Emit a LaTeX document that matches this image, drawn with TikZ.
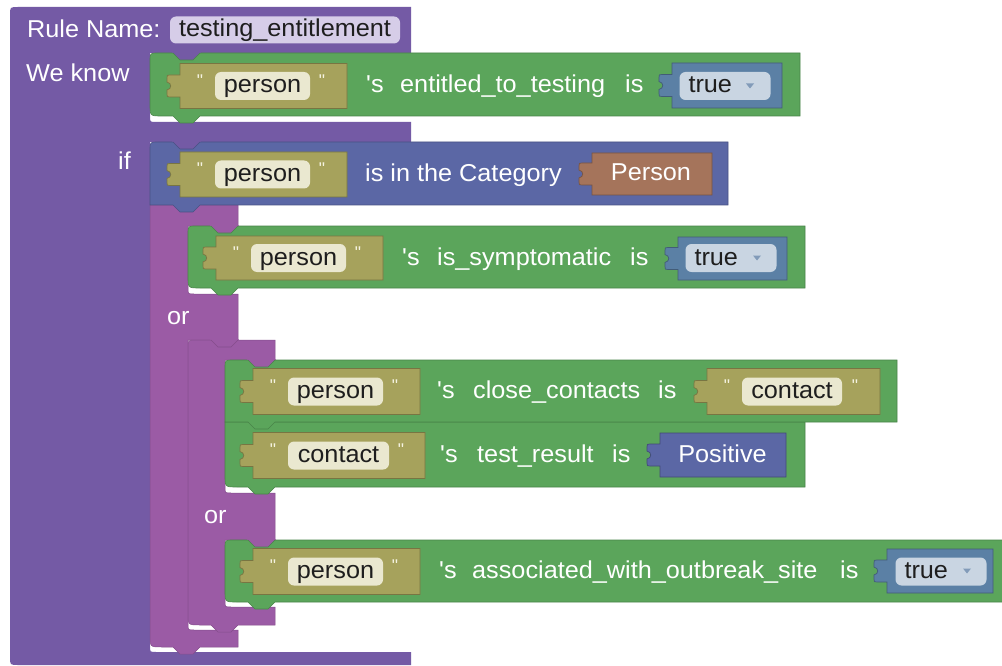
\documentclass[tikz,border=0pt]{standalone}
\usepackage{fontspec}
\setmainfont{Liberation Sans}[Ligatures=TeXOff,FakeStretch=1.035]
\definecolor{rulep}{RGB}{116,90,165}
\definecolor{orm}{RGB}{155,91,165}
\definecolor{grn}{RGB}{91,165,91}
\definecolor{oliv}{RGB}{166,162,92}
\definecolor{fieldc}{RGB}{234,232,208}
\definecolor{tblue}{RGB}{91,128,165}
\definecolor{tfieldc}{RGB}{201,213,226}
\definecolor{indigo}{RGB}{91,103,165}
\definecolor{brownb}{RGB}{165,116,91}
\definecolor{rfield}{RGB}{214,205,232}
\definecolor{fieldtxt}{RGB}{30,30,30}
\definecolor{qcol}{RGB}{245,243,225}
\definecolor{dropc}{RGB}{130,155,185}
% statement block: color, x1, y1, x2, y2, top-left radius, bottom-left radius
\newcommand\stmtblock[7]{%
  \fill[#1, draw=#1!80!black, line width=0.6pt] (#2,{#3+#6}) .. controls (#2,#3) .. ({#2+#6},#3) -- (#4,#3) -- (#4,#5) -- ({#2+50},#5) -- ({#2+43},{#5+7}) -- ({#2+30},{#5+7}) -- ({#2+23},#5) -- ({#2+#7},#5) .. controls (#2,#5) .. (#2,{#5-#7}) -- cycle;}
% parent's tab sitting in a child's top notch: parent color, child border, x, y
\newcommand\notchtab[4]{%
  \fill[#1] ({#3+22},{#4-0.8}) -- ({#3+30},{#4+7}) -- ({#3+43},{#4+7}) -- ({#3+51},{#4-0.8}) -- cycle;
  \draw[#2, line width=0.6pt] ({#3+23},#4) -- ({#3+30},{#4+7}) -- ({#3+43},{#4+7}) -- ({#3+50},#4);}
% value block with puzzle tab: color, x1, x2, centre y, height
\newcommand\valblock[5]{%
  \fill[#1, draw=#1!72!black, line width=0.7pt] (#2,{#4-#5/2}) -- (#3,{#4-#5/2}) -- (#3,{#4+#5/2}) -- (#2,{#4+#5/2}) -- (#2,{#4+11}) -- ({#2-10},{#4+11}) .. controls ({#2-13},{#4+11}) .. ({#2-13},{#4+8}) -- ({#2-13},{#4+4}) .. controls ({#2-8},{#4+3}) and ({#2-8},{#4-3}) .. ({#2-13},{#4-4}) -- ({#2-13},{#4-8}) .. controls ({#2-13},{#4-11}) .. ({#2-10},{#4-11}) -- (#2,{#4-11}) -- cycle;}
\newcommand\dropmark[2]{%
  \fill[dropc] ({#1-4},{#2-2.5}) -- ({#1+4},{#2-2.5}) -- (#1,{#2+2.5}) -- cycle;}
\tikzset{
  bfont/.style={font=\fontsize{24.4}{29}\selectfont},
  lbl/.style={bfont, text=white, anchor=base west, inner sep=0pt},
  vlbl/.style={bfont, text=white, inner sep=0pt, text height=17pt, text depth=3pt},
  pfield/.style={bfont, fill=fieldc, rounded corners=6pt, minimum height=28pt, inner sep=0pt, text height=17pt, text depth=3pt, text=fieldtxt},
  tfield/.style={bfont, fill=tfieldc, rounded corners=6pt, text width=73pt, align=left, inner xsep=9pt, inner ysep=4pt, text height=17pt, text depth=3pt, text=fieldtxt},
  qt/.style={text=qcol, inner sep=0pt, font=\fontsize{17}{20}\selectfont},
}
\begin{document}
\begin{tikzpicture}[x=1pt,y=-1pt]
\useasboundingbox (0,0) rectangle (1002,666);
\clip (0,0) rectangle (1002,666);
\fill[white] (0,0) rectangle (1002,666);

% main rule block
\fill[rulep] (10,15) .. controls (10,7) .. (18,7) -- (411,7) -- (411,53) -- (150,53) -- (150,116) .. controls (150,122) .. (156,122) -- (411,122) -- (411,142) -- (150,142) -- (150,646) .. controls (150,652) .. (156,652) -- (411,652) -- (411,665) -- (18,665) .. controls (10,665) .. (10,657) -- cycle;

% We know: green statement
\stmtblock{grn}{150}{53}{800}{116}{8}{12}
\notchtab{rulep}{grn!80!black}{150}{53}

% outer "or" block
\fill[orm, draw=orm!85!black, line width=0.5pt] (150,205) -- (238,205) -- (238,226) -- (188,226) -- (188,288) .. controls (188,294) .. (194,294) -- (238,294) -- (238,340) -- (188,340) -- (188,624) .. controls (188,630) .. (194,630) -- (238,630) -- (238,647) -- (200,647) -- (193,654) -- (180,654) -- (173,647) -- (162,647) .. controls (150,647) .. (150,635) -- cycle;

% category block
\stmtblock{indigo}{150}{142}{728}{205}{8}{0}
\notchtab{rulep}{indigo!80!black}{150}{142}

% is_symptomatic
\stmtblock{grn}{188}{226}{805}{288}{8}{12}
\notchtab{orm}{grn!80!black}{188}{226}

% nested "or" block
\fill[orm, draw=orm!85!black, line width=0.5pt] (188,348) .. controls (188,340) .. (196,340) -- (275,340) -- (275,360) -- (225,360) -- (225,487) .. controls (225,493) .. (231,493) -- (275,493) -- (275,540) -- (225,540) -- (225,601) .. controls (225,607) .. (231,607) -- (275,607) -- (275,625) -- (238,625) -- (231,632) -- (218,632) -- (211,625) -- (200,625) .. controls (188,625) .. (188,613) -- cycle;
\notchtab{orm}{orm!85!black}{188}{340}

% close_contacts / test_result / outbreak site
\stmtblock{grn}{225}{422}{805}{487}{0}{12}
\stmtblock{grn}{225}{360}{897}{422}{8}{0}
\notchtab{orm}{grn!80!black}{225}{360}
\stmtblock{grn}{225}{540}{1010}{602}{8}{12}
\notchtab{orm}{grn!80!black}{225}{540}

% header texts
\node[lbl] (rn) at (27,37.5) {Rule Name:};
\node[pfield, fill=rfield, minimum width=230pt, minimum height=27pt] (rnf) at (285,30) {testing\_entitlement};
\node[lbl] (wk) at (26,82) {We know};
\node[lbl] (ifl) at (118,170) {if};
\node[lbl] (or1) at (167,324) {or};
\node[lbl] (or2) at (204,523.5) {or};

% row 1
\valblock{oliv}{180}{347}{86}{45}
\node[qt] (q1a) at (200,80.5) {"};
\node[qt] (q1b) at (322,80.5) {"};
\node[pfield, minimum width=95pt] (f1) at (262.5,86) {person};
\node[lbl] (s1) at (366,93) {'s};
\node[lbl] (a1) at (400,93) {entitled\_to\_testing};
\node[lbl] (i1) at (625,93) {is};
\valblock{tblue}{672}{782}{85.5}{45}
\node[tfield] (t1) at (725,86) {true};
\dropmark{750}{86}

% row 2
\valblock{oliv}{180}{347}{174.5}{45}
\node[qt] (q2a) at (200,169) {"};
\node[qt] (q2b) at (322,169) {"};
\node[pfield, minimum width=95pt] (f2) at (262.5,174.5) {person};
\node[lbl] (c2) at (365,181.5) {is in the Category};
\valblock{brownb}{592}{712}{174}{42}
\node[vlbl] (p2) at (651,174) {Person};

% row 3
\valblock{oliv}{216}{383}{258}{44}
\node[qt] (q3a) at (236,252.5) {"};
\node[qt] (q3b) at (358,252.5) {"};
\node[pfield, minimum width=95pt] (f3) at (298.5,258) {person};
\node[lbl] (s3) at (402,265) {'s};
\node[lbl] (a3) at (437,265) {is\_symptomatic};
\node[lbl] (i3) at (630,265) {is};
\valblock{tblue}{678}{787}{258.5}{43}
\node[tfield] (t3) at (731,258) {true};
\dropmark{757}{258}

% row 4
\valblock{oliv}{253}{420}{391.5}{46}
\node[qt] (q4a) at (273,386) {"};
\node[qt] (q4b) at (395,386) {"};
\node[pfield, minimum width=95pt] (f4) at (335.5,391.5) {person};
\node[lbl] (s4) at (437,398.5) {'s};
\node[lbl] (a4) at (473,398.5) {close\_contacts};
\node[lbl] (i4) at (658,398.5) {is};
\valblock{oliv}{707}{880}{391.5}{46}
\node[qt] (q4c) at (727,386) {"};
\node[qt] (q4d) at (855,386) {"};
\node[pfield, minimum width=100pt] (f4b) at (792,391.5) {contact};

% row 5
\valblock{oliv}{253}{425}{455.5}{46}
\node[qt] (q5a) at (273,450) {"};
\node[qt] (q5b) at (401,450) {"};
\node[pfield, minimum width=101pt] (f5) at (338.5,455.5) {contact};
\node[lbl] (s5) at (440,462.5) {'s};
\node[lbl] (a5) at (477,462.5) {test\_result};
\node[lbl] (i5) at (612,462.5) {is};
\valblock{indigo}{660}{786}{455}{44}
\node[vlbl] (pos) at (722.5,455) {Positive};

% row 6
\valblock{oliv}{253}{420}{571.5}{46}
\node[qt] (q6a) at (273,566) {"};
\node[qt] (q6b) at (395,566) {"};
\node[pfield, minimum width=95pt] (f6) at (335.5,571.5) {person};
\node[lbl] (s6) at (439,578.5) {'s};
\node[lbl] (a6) at (472,578.5) {associated\_with\_outbreak\_site};
\node[lbl] (i6) at (840,578.5) {is};
\valblock{tblue}{887}{993}{571}{44}
\node[tfield] (t6) at (941,571.5) {true};
\dropmark{967}{571}
\end{tikzpicture}
\end{document}
